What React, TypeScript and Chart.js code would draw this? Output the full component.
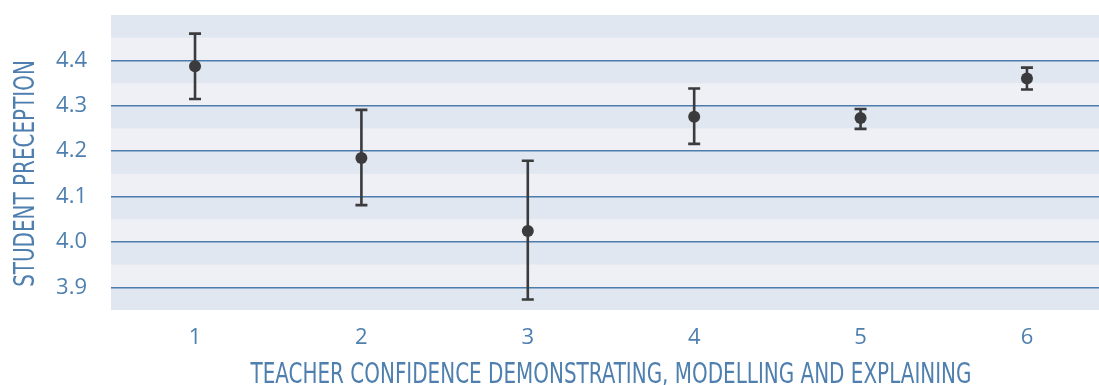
import React, { useEffect, useRef } from 'react';
import { Chart, registerables } from 'chart.js';

Chart.register(...registerables);

const categories = [1, 2, 3, 4, 5, 6];
const means = [4.387, 4.185, 4.024, 4.276, 4.273, 4.36];
const lower = [4.315, 4.081, 3.873, 4.216, 4.249, 4.336];
const upper = [4.459, 4.291, 4.179, 4.338, 4.293, 4.384];
const yTicks = [3.9, 4.0, 4.1, 4.2, 4.3, 4.4];
const xTicks = [1, 2, 3, 4, 5, 6];
const xTitle = 'TEACHER CONFIDENCE DEMONSTRATING, MODELLING AND EXPLAINING';
const yTitle = 'STUDENT PRECEPTION';

const BLUE = '#4e7fae';
const GRID = '#4d7dac';
const DARK_BAND = '#e1e7f0';
const LIGHT_BAND = '#eef0f6';
const MARK = '#3b3b3d';
const TITLE_FONT = '29px "Liberation Sans Narrow", "DejaVu Sans Condensed", sans-serif';
const TITLE_SQUEEZE = 0.765;
const TICK_FONT_FAMILY = '"Open Sans", sans-serif';

const bandsPlugin = {
  id: 'bands',
  beforeDraw(chart: any) {
    const { ctx, chartArea } = chart;
    const y = chart.scales.y;
    ctx.save();
    ctx.fillStyle = LIGHT_BAND;
    ctx.fillRect(chartArea.left, chartArea.top, chartArea.right - chartArea.left, chartArea.bottom - chartArea.top);
    ctx.fillStyle = DARK_BAND;
    const step = yTicks[1] - yTicks[0];
    for (let t = yTicks[0]; t - step / 2 < y.max - 1e-9; t += step) {
      const top = y.getPixelForValue(Math.min(t, y.max));
      const bot = y.getPixelForValue(Math.max(t - step / 2, y.min));
      ctx.fillRect(chartArea.left, top, chartArea.right - chartArea.left, bot - top);
    }
    ctx.restore();
  },
};

const errorBarsPlugin = {
  id: 'errorBars',
  beforeDatasetsDraw(chart: any) {
    const { ctx } = chart;
    const xs = chart.scales.x;
    const ys = chart.scales.y;
    ctx.save();
    ctx.strokeStyle = MARK;
    ctx.lineWidth = 2.6;
    const cap = 6;
    categories.forEach((c, i) => {
      const x = xs.getPixelForValue(c);
      const yl = ys.getPixelForValue(lower[i]);
      const yu = ys.getPixelForValue(upper[i]);
      ctx.beginPath();
      ctx.moveTo(x, yl);
      ctx.lineTo(x, yu);
      ctx.moveTo(x - cap, yl);
      ctx.lineTo(x + cap, yl);
      ctx.moveTo(x - cap, yu);
      ctx.lineTo(x + cap, yu);
      ctx.stroke();
    });
    ctx.restore();
  },
};

const titlesPlugin = {
  id: 'titles',
  afterDraw(chart: any) {
    const { ctx, chartArea } = chart;
    const xs = chart.scales.x;
    ctx.save();
    ctx.fillStyle = BLUE;
    ctx.font = TITLE_FONT;
    ctx.textAlign = 'center';
    ctx.textBaseline = 'alphabetic';
    const cx = (xs.getPixelForValue(0.5) + xs.getPixelForValue(6.5)) / 2;
    ctx.save();
    ctx.translate(cx, 383);
    ctx.scale(TITLE_SQUEEZE, 1);
    ctx.fillText(xTitle, 0, 0);
    ctx.restore();
    ctx.save();
    ctx.translate(34, (chartArea.top + chartArea.bottom) / 2 + 11);
    ctx.rotate(-Math.PI / 2);
    ctx.scale(TITLE_SQUEEZE, 1);
    ctx.fillText(yTitle, 0, 0);
    ctx.restore();
    ctx.restore();
  },
};

export default function App() {
  const ref = useRef<HTMLCanvasElement>(null);
  useEffect(() => {
    if (!ref.current) return;
    const chart = new Chart(ref.current, {
      type: 'scatter',
      data: {
        datasets: [
          {
            data: categories.map((c, i) => ({ x: c, y: means[i] })),
            backgroundColor: MARK,
            borderColor: MARK,
            pointRadius: 6,
            pointBorderWidth: 0,
          },
        ],
      },
      options: {
        animation: false,
        responsive: true,
        maintainAspectRatio: false,
        layout: { autoPadding: false, padding: { top: 15, right: 0, left: 0, bottom: 0 } },
        plugins: { legend: { display: false }, tooltip: { enabled: false } },
        scales: {
          x: {
            type: 'linear',
            min: 0.495,
            max: 6.433,
            afterBuildTicks: (s: any) => {
              s.ticks = xTicks.map((v) => ({ value: v }));
            },
            afterFit: (s: any) => {
              s.height = 75;
              s.paddingLeft = 0;
              s.paddingRight = 0;
              s.paddingTop = 0;
              s.paddingBottom = 0;
            },
            grid: { display: false, drawTicks: false },
            border: { display: false },
            ticks: {
              color: BLUE,
              font: { family: TICK_FONT_FAMILY, size: 22 },
              padding: 15,
              callback: (v: any) => String(v),
            },
          },
          y: {
            min: 3.85,
            max: 4.5,
            afterBuildTicks: (s: any) => {
              s.ticks = yTicks.map((v) => ({ value: v }));
            },
            afterFit: (s: any) => {
              s.width = 111;
              s.paddingLeft = 0;
              s.paddingRight = 0;
              s.paddingTop = 0;
              s.paddingBottom = 0;
            },
            grid: { color: GRID, lineWidth: 1.5, drawTicks: false },
            border: { display: false },
            ticks: {
              color: BLUE,
              font: { family: TICK_FONT_FAMILY, size: 22 },
              padding: 24,
              callback: (v: any) => Number(v).toFixed(1),
            },
          },
        },
      },
      plugins: [bandsPlugin, errorBarsPlugin, titlesPlugin],
    });
    return () => chart.destroy();
  }, []);
  return (
    <div style={{ position: 'absolute', left: 0, top: 0, width: 1099, height: 385 }}>
      <canvas ref={ref} />
    </div>
  );
}
